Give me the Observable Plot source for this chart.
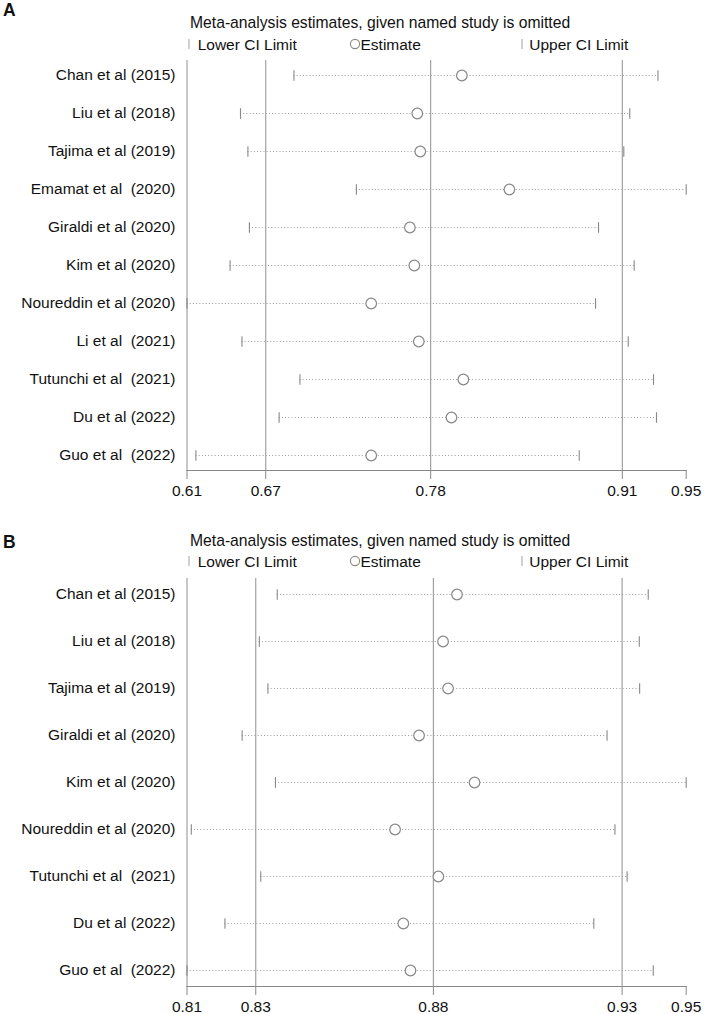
<!DOCTYPE html>
<html><head><meta charset="utf-8">
<script src="https://cdn.jsdelivr.net/npm/d3@7"></script>
<script src="https://cdn.jsdelivr.net/npm/@observablehq/plot@0.6"></script>
<style>
body{margin:0;background:#fff;font-family:"Liberation Sans",Arial,Helvetica,sans-serif;color:#111}
#root{position:relative;width:708px;height:1014px;overflow:hidden;background:#fff}
.abs{position:absolute;white-space:pre;line-height:1;font-size:15.5px}
.title{font-size:15.7px}
.tag{font-weight:bold;font-size:17.5px}
svg.legsym{position:absolute;overflow:visible}
</style></head><body><div id="root"></div><script>
const NB = "\u00a0";
// ---- Panel A data ----
const studiesA = ["Chan et al (2015)", "Liu et al (2018)", "Tajima et al (2019)", "Emamat et al" + NB + " (2020)", "Giraldi et al (2020)", "Kim et al (2020)", "Noureddin et al (2020)", "Li et al" + NB + " (2021)", "Tutunchi et al" + NB + " (2021)", "Du et al (2022)", "Guo et al" + NB + " (2022)"];
const estimateA = [0.799, 0.769, 0.771, 0.831, 0.764, 0.767, 0.738, 0.770, 0.800, 0.792, 0.738];
const lowerA = [0.686, 0.650, 0.655, 0.728, 0.656, 0.643, 0.614, 0.651, 0.690, 0.676, 0.620];
const upperA = [0.931, 0.912, 0.908, 0.950, 0.891, 0.915, 0.889, 0.911, 0.928, 0.930, 0.878];
const ticksA = [0.614, 0.667, 0.778, 0.907, 0.950];

// ---- Panel B data ----
const studiesB = ["Chan et al (2015)", "Liu et al (2018)", "Tajima et al (2019)", "Giraldi et al (2020)", "Kim et al (2020)", "Noureddin et al (2020)", "Tutunchi et al" + NB + " (2021)", "Du et al (2022)", "Guo et al" + NB + " (2022)"];
const estimateB = [0.8855, 0.8816, 0.8830, 0.8749, 0.8904, 0.8682, 0.8803, 0.8705, 0.8725];
const lowerB = [0.8353, 0.8303, 0.8327, 0.8255, 0.8348, 0.8113, 0.8307, 0.8207, 0.8101];
const upperB = [0.9389, 0.9364, 0.9365, 0.9274, 0.9495, 0.9296, 0.9330, 0.9237, 0.9403];
const ticksB = [0.8101, 0.8293, 0.8789, 0.9316, 0.9495];

const titleText = "Meta-analysis estimates, given named study is omitted";
const legendLabels = ["Lower CI Limit", "Estimate", "Upper CI Limit"];
const panelTags = ["A", "B"];

const root = document.getElementById("root");
const vbar = {draw(ctx, size) { const h = Math.sqrt(size / Math.PI); ctx.moveTo(0, -h); ctx.lineTo(0, h); }};

function addText(txt, left, top, cls) {
  const d = document.createElement("div");
  d.className = "abs " + (cls || "");
  d.textContent = txt;
  d.style.left = left + "px";
  d.style.top = top + "px";
  root.appendChild(d);
}
function addSym(kind, cx, cy) {
  const ns = "http://www.w3.org/2000/svg";
  const s = document.createElementNS(ns, "svg");
  s.setAttribute("class", "legsym");
  s.setAttribute("width", 12); s.setAttribute("height", 12);
  s.style.left = (cx - 6) + "px"; s.style.top = (cy - 6) + "px";
  if (kind === "circle") {
    const c = document.createElementNS(ns, "circle");
    c.setAttribute("cx", 6); c.setAttribute("cy", 6); c.setAttribute("r", 4.6);
    c.setAttribute("fill", "white"); c.setAttribute("stroke", "#888"); c.setAttribute("stroke-width", 1.1);
    s.appendChild(c);
  } else {
    const l = document.createElementNS(ns, "line");
    l.setAttribute("x1", 6); l.setAttribute("x2", 6); l.setAttribute("y1", 1); l.setAttribute("y2", 11);
    l.setAttribute("stroke", "#aaa"); l.setAttribute("stroke-width", 1.1);
    s.appendChild(l);
  }
  root.appendChild(s);
}

function panel({studies, est, lower, upper, ticks, tag, tagTop, titleTop, legendTop, svgTop, height, marginBottom, padding}) {
  addText(tag, 3, tagTop, "tag");
  addText(titleText, 190, titleTop, "title");
  const symY = legendTop + 13.1 - 5.4;
  addSym("bar", 189.3, symY);
  addText(legendLabels[0], 197.7, legendTop);
  addSym("circle", 355, symY);
  addText(legendLabels[1], 360.5, legendTop);
  addSym("bar", 521.7, symY);
  addText(legendLabels[2], 529.3, legendTop);

  const data = studies.map((s, i) => ({study: s, est: est[i], lower: lower[i], upper: upper[i]}));
  const chart = Plot.plot({
    width: 708,
    height,
    marginTop: 5,
    marginBottom,
    marginLeft: 186.5,
    marginRight: 22.3,
    style: {fontFamily: "'Liberation Sans', Arial, Helvetica, sans-serif", fontSize: "15.5px", color: "#111", background: "white"},
    x: {domain: [ticks[0], ticks[ticks.length - 1]]},
    y: {type: "point", domain: studies, padding},
    marks: [
      Plot.ruleX(ticks.slice(0, 4), {stroke: "#999", strokeWidth: 1.1}),
      Plot.frame({anchor: "bottom", stroke: "#888", strokeWidth: 1.1}),
      Plot.ruleY(data, {y: "study", x1: "lower", x2: "upper", stroke: "#9d9d9d", strokeWidth: 1, strokeDasharray: "1,2.2"}),
      Plot.dot(data, {x: "lower", y: "study", symbol: vbar, r: 5.3, fill: "none", stroke: "#888", strokeWidth: 1.1}),
      Plot.dot(data, {x: "upper", y: "study", symbol: vbar, r: 5.3, fill: "none", stroke: "#888", strokeWidth: 1.1}),
      Plot.dot(data, {x: "est", y: "study", r: 5.3, fill: "white", stroke: "#888", strokeWidth: 1.2}),
      Plot.axisX({ticks, tickFormat: d3.format(".2f"), tickSize: 9, tickPadding: 5, stroke: "#888", fill: "#111", label: null}),
      Plot.axisY({tickSize: 0, tickPadding: 11.5, fill: "#111", label: null})
    ]
  });
  chart.style.position = "absolute";
  chart.style.left = "0px";
  chart.style.top = svgTop + "px";
  root.appendChild(chart);
}

panel({studies: studiesA, est: estimateA, lower: lowerA, upper: upperA, ticks: ticksA, tag: panelTags[0],
  tagTop: 2, titleTop: 15.2, legendTop: 36.6, svgTop: 55, height: 450, marginBottom: 35, padding: 0.389});
panel({studies: studiesB, est: estimateB, lower: lowerB, upper: upperB, ticks: ticksB, tag: panelTags[1],
  tagTop: 533.5, titleTop: 533.2, legendTop: 553.6, svgTop: 573, height: 441, marginBottom: 28, padding: 0.295});
</script></body></html>
